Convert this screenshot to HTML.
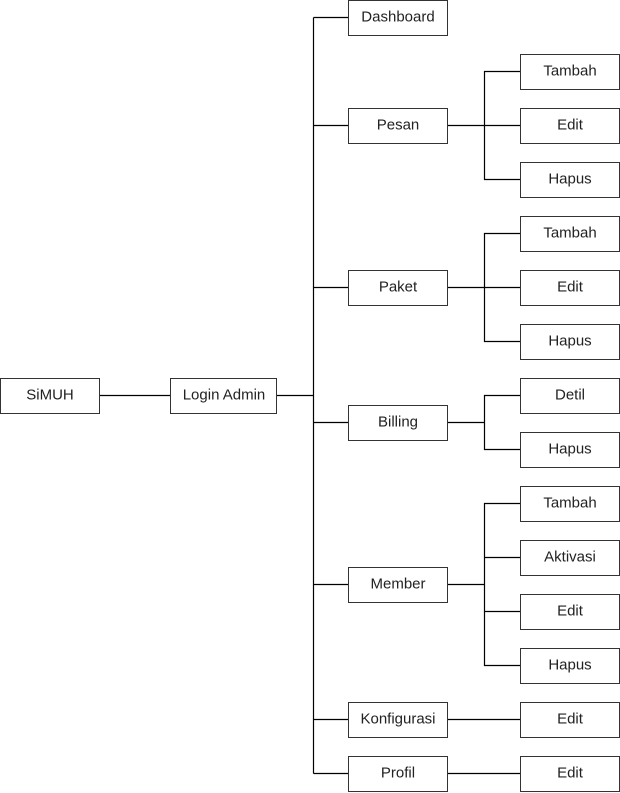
<!DOCTYPE html>
<html><head><meta charset="utf-8"><style>
html,body{margin:0;padding:0;background:#fff;}
svg{display:block;}
text{font-family:"Liberation Sans",sans-serif;font-size:15px;fill:#222;text-anchor:middle;dominant-baseline:central;}
rect{fill:#fff;stroke:#333;stroke-width:1;}
line,path{stroke:#000;stroke-width:1.2;fill:none;}
</style></head><body>
<svg width="620" height="793" viewBox="0 0 620 793" xmlns="http://www.w3.org/2000/svg">
<line x1="100" y1="395.5" x2="170" y2="395.5"/>
<line x1="277" y1="395.5" x2="313.5" y2="395.5"/>
<line x1="313.5" y1="17.5" x2="313.5" y2="773.5"/>
<line x1="313.5" y1="17.5" x2="348" y2="17.5"/>
<line x1="313.5" y1="125.5" x2="348" y2="125.5"/>
<line x1="313.5" y1="287.5" x2="348" y2="287.5"/>
<line x1="313.5" y1="422.5" x2="348" y2="422.5"/>
<line x1="313.5" y1="584.5" x2="348" y2="584.5"/>
<line x1="313.5" y1="719.5" x2="348" y2="719.5"/>
<line x1="313.5" y1="773.5" x2="348" y2="773.5"/>
<line x1="447" y1="125.5" x2="520" y2="125.5"/>
<path d="M520 71.5 H484.5 V179.5 H520"/>
<line x1="447" y1="287.5" x2="520" y2="287.5"/>
<path d="M520 233.5 H484.5 V341.5 H520"/>
<line x1="447" y1="422.5" x2="484.5" y2="422.5"/>
<path d="M520 395.5 H484.5 V449.5 H520"/>
<line x1="447" y1="584.5" x2="484.5" y2="584.5"/>
<path d="M520 503.5 H484.5 V665.5 H520"/>
<line x1="484.5" y1="557.5" x2="520" y2="557.5"/>
<line x1="484.5" y1="611.5" x2="520" y2="611.5"/>
<line x1="447" y1="719.5" x2="520" y2="719.5"/>
<line x1="447" y1="773.5" x2="520" y2="773.5"/>

<rect x="0.5" y="378.5" width="99" height="35"/><text x="50" y="395">SiMUH</text>
<rect x="170.5" y="378.5" width="106" height="35"/><text x="224" y="395">Login Admin</text>

<rect x="348.5" y="0.5" width="99" height="35"/><text x="398" y="17">Dashboard</text>
<rect x="348.5" y="108.5" width="99" height="35"/><text x="398" y="125">Pesan</text>
<rect x="348.5" y="270.5" width="99" height="35"/><text x="398" y="287">Paket</text>
<rect x="348.5" y="405.5" width="99" height="35"/><text x="398" y="422">Billing</text>
<rect x="348.5" y="567.5" width="99" height="35"/><text x="398" y="584">Member</text>
<rect x="348.5" y="702.5" width="99" height="35"/><text x="398" y="719">Konfigurasi</text>
<rect x="348.5" y="756.5" width="99" height="35"/><text x="398" y="773">Profil</text>

<rect x="520.5" y="54.5" width="99" height="35"/><text x="570" y="71">Tambah</text>
<rect x="520.5" y="108.5" width="99" height="35"/><text x="570" y="125">Edit</text>
<rect x="520.5" y="162.5" width="99" height="35"/><text x="570" y="179">Hapus</text>
<rect x="520.5" y="216.5" width="99" height="35"/><text x="570" y="233">Tambah</text>
<rect x="520.5" y="270.5" width="99" height="35"/><text x="570" y="287">Edit</text>
<rect x="520.5" y="324.5" width="99" height="35"/><text x="570" y="341">Hapus</text>
<rect x="520.5" y="378.5" width="99" height="35"/><text x="570" y="395">Detil</text>
<rect x="520.5" y="432.5" width="99" height="35"/><text x="570" y="449">Hapus</text>
<rect x="520.5" y="486.5" width="99" height="35"/><text x="570" y="503">Tambah</text>
<rect x="520.5" y="540.5" width="99" height="35"/><text x="570" y="557">Aktivasi</text>
<rect x="520.5" y="594.5" width="99" height="35"/><text x="570" y="611">Edit</text>
<rect x="520.5" y="648.5" width="99" height="35"/><text x="570" y="665">Hapus</text>
<rect x="520.5" y="702.5" width="99" height="35"/><text x="570" y="719">Edit</text>
<rect x="520.5" y="756.5" width="99" height="35"/><text x="570" y="773">Edit</text>
</svg>
</body></html>
